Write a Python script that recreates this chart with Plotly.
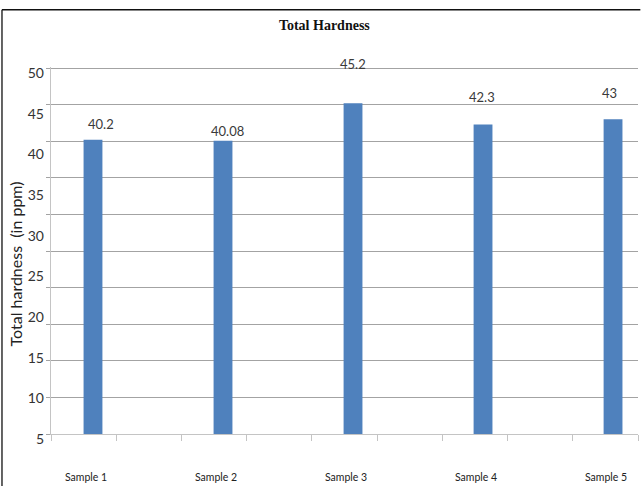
import plotly.graph_objects as go

# Total hardness measured for each water sample (ppm)
samples = ["Sample 1", "Sample 2", "Sample 3", "Sample 4", "Sample 5"]
hardness = [40.2, 40.08, 45.2, 42.3, 43]
value_labels = ["40.2", "40.08", "45.2", "42.3", "43"]
axis_ticks = [5, 10, 15, 20, 25, 30, 35, 40, 45, 50]

# per-label nudges for the value annotations (pixels)
label_dx = [8, 4, 0, -1, -4]
label_dy = [16, 10, 39, 27, 26]

BAR = "#4F81BD"
GRID = "#a3a3a3"
AXIS = "#c4c4c4"
TXT = "#333333"
FONT = "Lato, 'Open Sans', sans-serif"

fig = go.Figure()
fig.add_trace(go.Bar(
    x=samples, y=hardness, width=0.145,
    marker=dict(color=BAR, line=dict(width=0)),
    xaxis="x", yaxis="y", showlegend=False, hoverinfo="x+y",
))
# empty trace so the overlay axes (labels / tick marks) get drawn
fig.add_trace(go.Scatter(
    x=[None], y=[None], xaxis="x2", yaxis="y2",
    mode="markers", showlegend=False, hoverinfo="skip",
))

for s, v, t, dx, dy in zip(samples, hardness, value_labels, label_dx, label_dy):
    fig.add_annotation(
        x=s, y=v, text=t, showarrow=False, xref="x", yref="y",
        xshift=dx, yshift=dy, yanchor="middle",
        font=dict(family=FONT, size=13, color="#3a3a3a"),
    )

# vertical axis title
fig.add_annotation(
    text="Total hardness&nbsp;&nbsp;(in ppm)", textangle=-90,
    xref="paper", yref="paper", x=-0.0613, y=0.462,
    xanchor="center", yanchor="middle", showarrow=False,
    font=dict(family=FONT, size=16, color="#222222"),
)

# outer frame of the chart: left and top edges
frame = dict(color="#111111", width=1.3)
fig.add_shape(type="line", xref="paper", yref="paper",
              x0=-0.0835, x1=-0.0835, y0=-0.2, y1=1.156, line=frame)
fig.add_shape(type="line", xref="paper", yref="paper",
              x0=-0.0835, x1=1.004, y0=1.156, y1=1.156, line=frame)

fig.update_layout(
    width=641, height=486,
    margin=dict(l=51, r=3, t=67, b=49),
    paper_bgcolor="white", plot_bgcolor="white",
    title=dict(
        text="<b>Total Hardness</b>",
        font=dict(family="'Liberation Serif', 'Times New Roman', serif", size=14, color="#111111"),
        x=0.506, xanchor="center", xref="container",
        y=1 - 25 / 486, yanchor="middle", yref="container",
    ),
    xaxis=dict(
        type="category", range=[-0.323, 4.192],
        showline=True, linecolor=AXIS, linewidth=1.3,
        showgrid=False, zeroline=False, ticks="",
        tickfont=dict(family=FONT, size=10.5, color="#222222"),
        ticklabelstandoff=33, ticklabelshift=-7,
        fixedrange=True,
    ),
    xaxis2=dict(
        overlaying="x", anchor="y2", side="bottom",
        range=[0, 9], dtick=1, tick0=0,
        ticks="outside", ticklen=6, tickcolor=AXIS, tickwidth=1.3,
        showticklabels=False, showgrid=False, zeroline=False, showline=False,
        fixedrange=True,
    ),
    yaxis=dict(
        range=[0, 50.15], dtick=5, tick0=0,
        showgrid=True, gridcolor=GRID, gridwidth=1.4,
        ticks="outside", ticklen=4, tickcolor=GRID, tickwidth=1.3,
        showticklabels=False, zeroline=False,
        showline=True, linecolor=AXIS, linewidth=1.3,
        fixedrange=True,
    ),
    yaxis2=dict(
        overlaying="y", anchor="x2", side="left",
        range=[5, 50.15], tickvals=axis_ticks,
        showgrid=False, zeroline=False, showline=False, ticks="",
        tickfont=dict(family=FONT, size=14, color=TXT),
        ticklabelstandoff=6, ticklabelshift=5,
        fixedrange=True,
    ),
)

fig.write_html("out.html")
